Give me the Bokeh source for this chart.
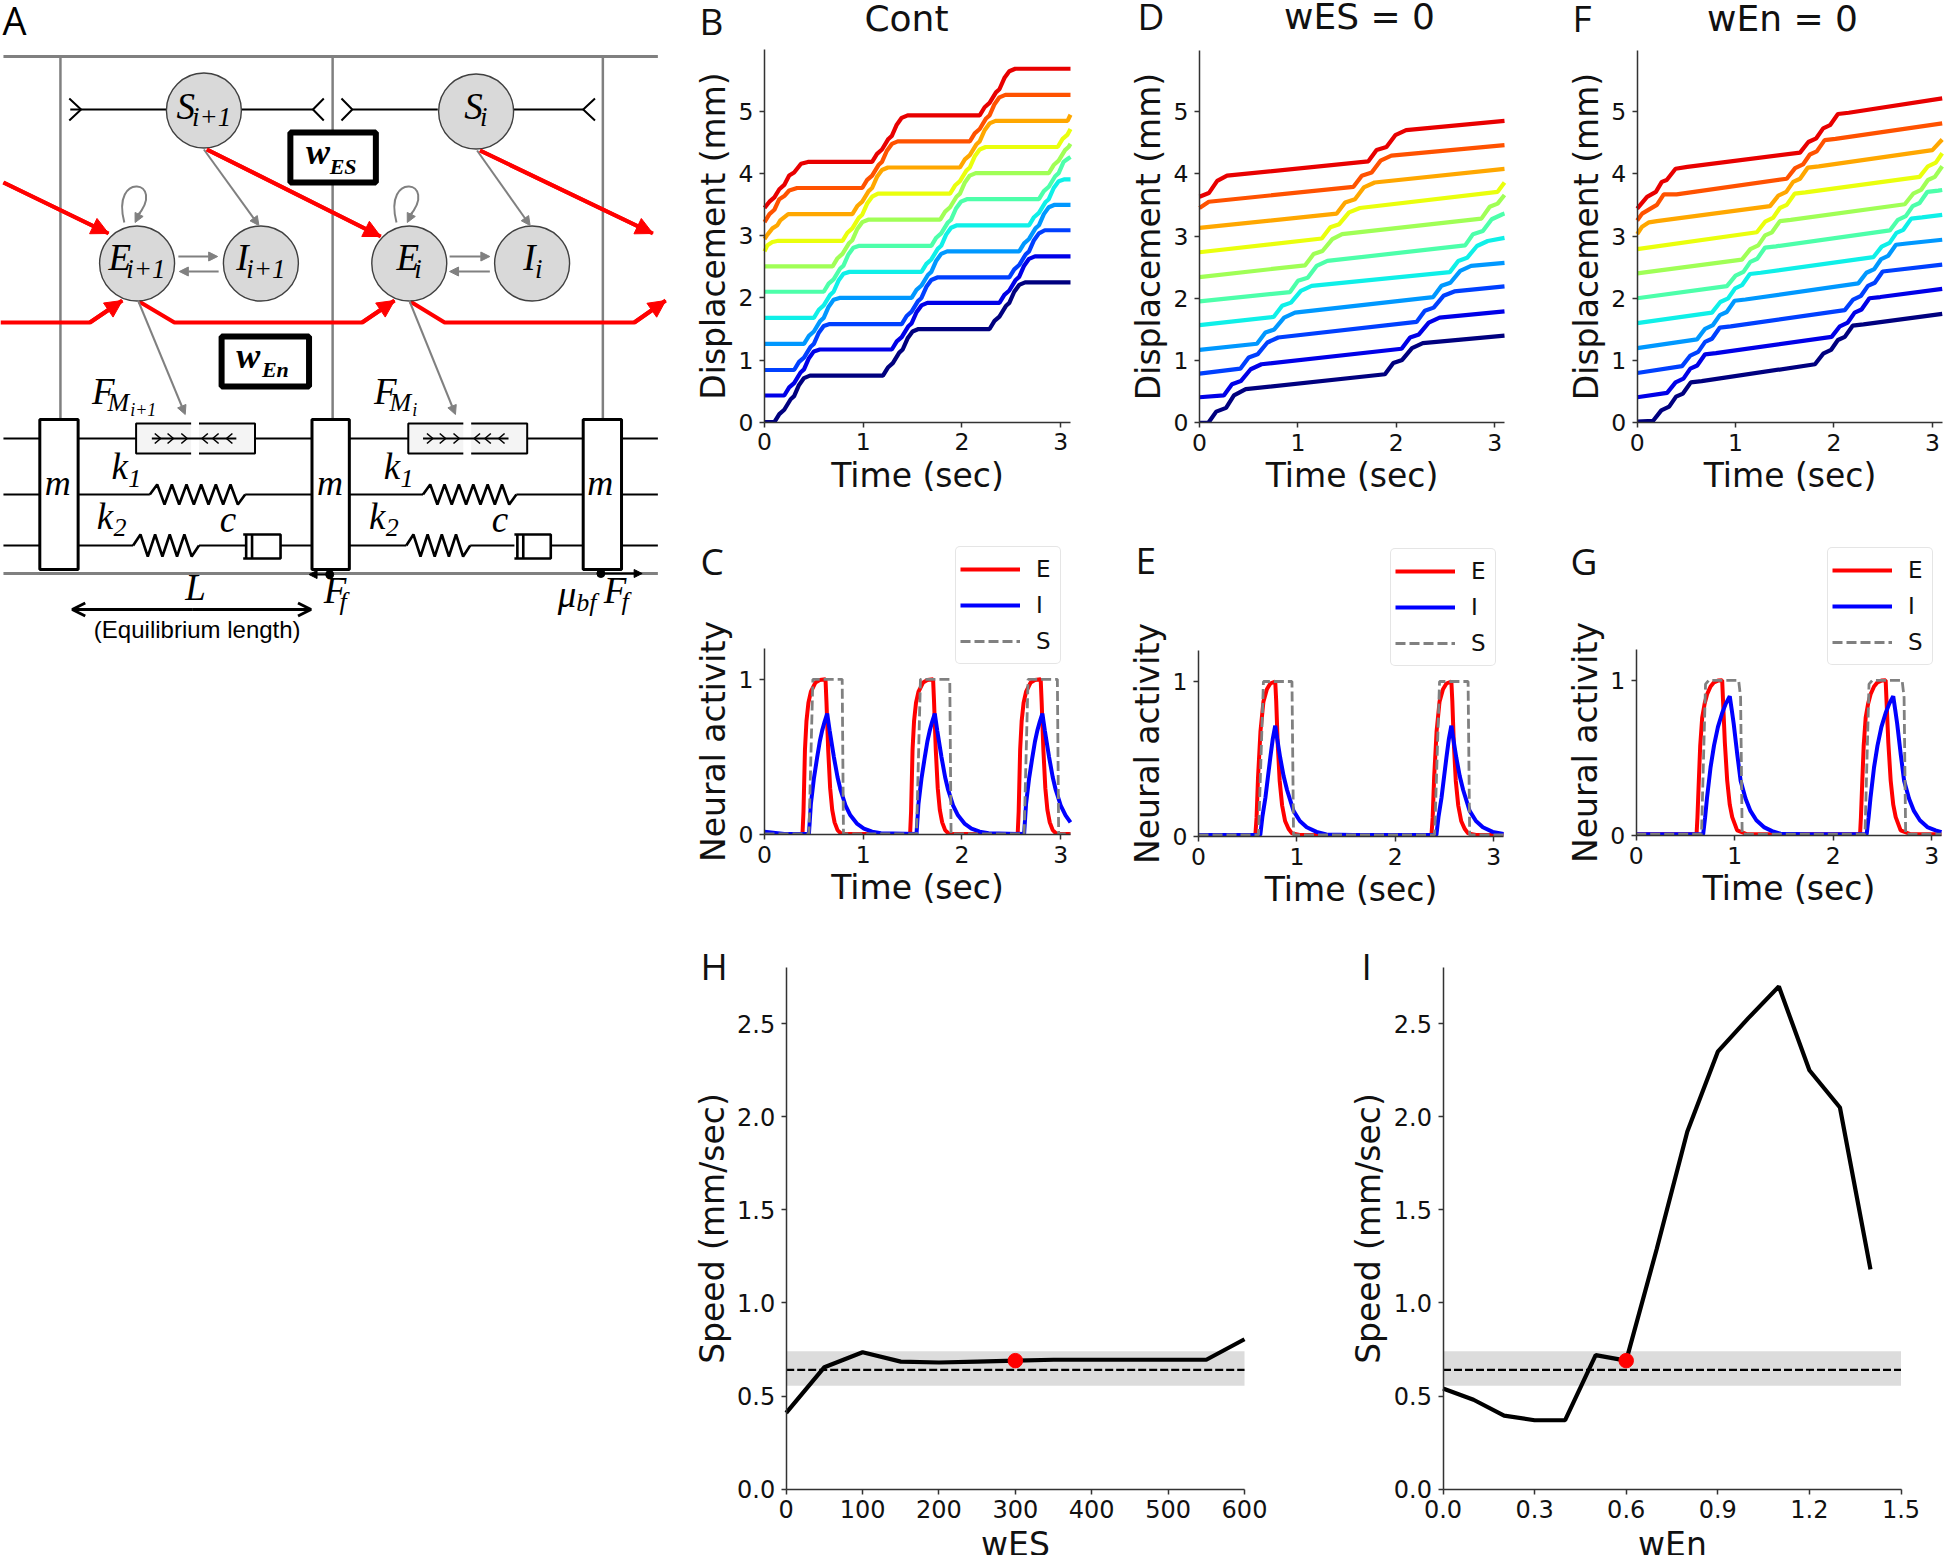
from bokeh.plotting import figure
from bokeh.layouts import row, column
from bokeh.models import (Label, Legend, LegendItem, Range1d, FixedTicker, Spacer, Arrow,
                          NormalHead, OpenHead, LinearAxis)
from bokeh.embed import file_html
from bokeh.resources import INLINE

# ---------- data ----------
TICKS_TIME = [0, 1, 2, 3]
TICKS_DISP = [0, 1, 2, 3, 4, 5]
TICKS_ACT = [0, 1]
TICKS_SPEED = [0, 0.5, 1, 1.5, 2, 2.5]
TICKS_SPEED_LABELS = ["0.0", "0.5", "1.0", "1.5", "2.0", "2.5"]
TICKS_WES = [0, 100, 200, 300, 400, 500, 600]
TICKS_WEN = [0, 0.3, 0.6, 0.9, 1.2, 1.5]
TICKS_WEN_LABELS = ["0.0", "0.3", "0.6", "0.9", "1.2", "1.5"]

JET = ["#00007f", "#0000e8", "#0040ff", "#0098ff", "#0ff0e8", "#4dffaa",
       "#a0ff56", "#eaff0d", "#ffa700", "#ff5200", "#e80000"]

B_T = [
 [0,.1,.15,.2,.265,.3,.35,.4,.46,1.2,1.25,1.3,1.365,1.4,1.45,1.5,1.56,2.28,2.33,2.38,2.445,2.48,2.53,2.58,2.64,3.1],
 [0,.2,.25,.3,.365,.4,.45,.5,.56,1.29,1.34,1.39,1.455,1.49,1.54,1.59,1.65,2.38,2.43,2.48,2.545,2.58,2.63,2.68,2.74,3.1],
 [0,.3,.35,.4,.465,.5,.55,.6,.66,1.39,1.44,1.49,1.555,1.59,1.64,1.69,1.75,2.48,2.53,2.58,2.645,2.68,2.73,2.78,2.84,3.1],
 [0,.4,.45,.5,.565,.6,.65,.7,.76,1.49,1.54,1.59,1.655,1.69,1.74,1.79,1.85,2.58,2.63,2.68,2.745,2.78,2.83,2.88,2.94,3.1],
 [0,.5,.55,.6,.665,.7,.75,.8,.86,1.59,1.64,1.69,1.755,1.79,1.84,1.89,1.95,2.68,2.73,2.78,2.845,2.88,2.93,2.98,3.04,3.1],
 [0,.6,.65,.7,.765,.8,.85,.9,.96,1.69,1.74,1.79,1.855,1.89,1.94,1.99,2.05,2.78,2.83,2.88,2.945,2.98,3.03,3.08,3.1],
 [0,.69,.74,.79,.855,.89,.94,.99,1.05,1.78,1.83,1.88,1.945,1.98,2.03,2.08,2.14,2.88,2.93,2.98,3.045,3.08,3.1],
 [0,.03,.08,.14,.79,.84,.89,.955,.99,1.04,1.09,1.15,1.88,1.93,1.98,2.045,2.08,2.13,2.18,2.24,2.97,3.02,3.07,3.1],
 [0,.03,.08,.13,.16,.24,.89,.94,.99,1.055,1.09,1.14,1.19,1.25,1.98,2.03,2.08,2.145,2.18,2.23,2.28,2.34,3.07,3.1],
 [0,.05,.1,.15,.2,.25,.33,.99,1.04,1.09,1.155,1.19,1.24,1.29,1.35,2.08,2.13,2.18,2.245,2.28,2.33,2.38,2.44,3.1],
 [0,.05,.1,.15,.2,.25,.3,.37,.44,1.09,1.14,1.19,1.255,1.29,1.34,1.39,1.45,2.18,2.23,2.28,2.345,2.38,2.43,2.48,2.54,3.1],
]
B_Y = [
 [0,0,.13,.2,.37,.42,.6,.71,.75,.75,.88,.95,1.12,1.17,1.35,1.46,1.5,1.5,1.63,1.7,1.87,1.92,2.1,2.21,2.25,2.25],
 [.43,.43,.56,.63,.8,.85,1.03,1.14,1.17,1.17,1.3,1.37,1.54,1.59,1.77,1.88,1.92,1.92,2.05,2.12,2.29,2.34,2.52,2.63,2.67,2.67],
 [.84,.84,.97,1.04,1.21,1.26,1.44,1.55,1.58,1.58,1.71,1.78,1.95,2.0,2.18,2.29,2.33,2.33,2.46,2.53,2.7,2.75,2.93,3.04,3.09,3.09],
 [1.26,1.26,1.39,1.46,1.63,1.68,1.86,1.97,2.0,2.0,2.13,2.2,2.37,2.42,2.6,2.71,2.75,2.75,2.88,2.95,3.12,3.17,3.35,3.46,3.5,3.5],
 [1.68,1.68,1.81,1.88,2.05,2.1,2.28,2.39,2.42,2.42,2.55,2.62,2.79,2.84,3.02,3.13,3.17,3.17,3.3,3.37,3.54,3.59,3.77,3.88,3.91,3.91],
 [2.1,2.1,2.23,2.3,2.47,2.52,2.7,2.81,2.84,2.84,2.97,3.04,3.21,3.26,3.44,3.55,3.59,3.59,3.72,3.79,3.96,4.01,4.19,4.25,4.27],
 [2.51,2.51,2.64,2.71,2.88,2.93,3.11,3.22,3.26,3.26,3.39,3.46,3.63,3.68,3.86,3.97,4.01,4.01,4.14,4.21,4.38,4.43,4.48],
 [2.75,2.85,2.9,2.92,2.92,3.05,3.12,3.29,3.34,3.52,3.63,3.68,3.68,3.81,3.88,4.05,4.1,4.28,4.39,4.43,4.43,4.56,4.63,4.72],
 [2.95,3.02,3.12,3.17,3.25,3.35,3.35,3.48,3.55,3.72,3.77,3.95,4.06,4.1,4.1,4.23,4.3,4.47,4.52,4.7,4.81,4.85,4.85,4.95],
 [3.22,3.35,3.42,3.59,3.64,3.73,3.77,3.77,3.9,3.97,4.14,4.19,4.37,4.48,4.52,4.52,4.65,4.72,4.89,4.94,5.12,5.23,5.27,5.27],
 [3.45,3.55,3.62,3.75,3.82,3.97,4.02,4.16,4.19,4.19,4.32,4.39,4.56,4.61,4.79,4.9,4.94,4.94,5.07,5.14,5.31,5.36,5.54,5.65,5.69,5.69],
]

D_T = [
 [0,.09,.17,.27,.35,.47,1.885,1.97,2.06,2.16,2.27,3.1],
 [0,.247,.33,.42,.52,.63,2.054,2.14,2.23,2.33,2.44,3.1],
 [0,.415,.5,.59,.69,.8,2.206,2.29,2.38,2.48,2.59,3.1],
 [0,.584,.67,.76,.86,.97,2.375,2.46,2.55,2.65,2.76,3.1],
 [0,.753,.84,.93,1.03,1.14,2.544,2.63,2.72,2.82,2.93,3.1],
 [0,.92,1.0,1.1,1.19,1.3,2.70,2.78,2.88,2.97,3.08,3.1],
 [0,1.074,1.16,1.25,1.35,1.45,2.865,2.95,3.03,3.1],
 [0,1.243,1.33,1.42,1.52,1.63,3.03,3.1],
 [0,1.395,1.48,1.58,1.67,1.78,3.1],
 [0,.095,1.565,1.65,1.75,1.84,1.95,3.1],
 [0,.095,.18,.28,1.716,1.8,1.9,1.99,2.1,3.1],
]
D_Y = [
 [0,0,.18,.24,.44,.54,.78,.96,1.01,1.2,1.28,1.4],
 [.41,.44,.62,.67,.86,.94,1.19,1.37,1.42,1.61,1.69,1.79],
 [.79,.87,1.05,1.1,1.29,1.37,1.62,1.8,1.85,2.04,2.11,2.19],
 [1.17,1.27,1.45,1.5,1.69,1.77,2.02,2.2,2.25,2.44,2.52,2.57],
 [1.57,1.7,1.88,1.93,2.12,2.2,2.42,2.6,2.65,2.84,2.92,2.97],
 [1.95,2.1,2.28,2.33,2.52,2.6,2.85,3.03,3.08,3.27,3.35,3.36],
 [2.34,2.53,2.71,2.76,2.95,3.03,3.28,3.47,3.52,3.66],
 [2.74,2.96,3.14,3.19,3.38,3.45,3.71,3.86],
 [3.13,3.36,3.54,3.59,3.78,3.86,4.08],
 [3.45,3.55,3.79,3.97,4.02,4.21,4.29,4.46],
 [3.63,3.69,3.885,3.97,4.2,4.38,4.43,4.62,4.70,4.85],
]

F_T = [
 [0,.16,.245,.325,.395,.465,.545,.655,1.807,1.89,1.97,2.04,2.11,2.19,2.3,3.1],
 [0,.304,.39,.47,.54,.61,.69,.8,1.976,2.06,2.14,2.21,2.28,2.36,2.47,3.1],
 [0,.456,.54,.62,.69,.76,.84,.95,2.11,2.195,2.275,2.345,2.415,2.495,2.605,3.1],
 [0,.608,.69,.77,.84,.91,.99,1.1,2.247,2.33,2.41,2.48,2.55,2.63,2.74,3.1],
 [0,.76,.845,.925,.995,1.065,1.145,1.255,2.4,2.485,2.565,2.635,2.705,2.785,2.895,3.1],
 [0,.912,1.0,1.08,1.15,1.22,1.3,1.41,2.568,2.65,2.73,2.8,2.87,2.95,3.06,3.1],
 [0,1.064,1.15,1.23,1.3,1.37,1.45,1.56,2.72,2.805,2.885,2.955,3.025,3.1],
 [0,1.216,1.30,1.38,1.45,1.52,1.6,1.71,2.87,2.955,3.035,3.1],
 [0,.05,.12,.2,1.35,1.435,1.515,1.585,1.655,1.735,1.845,3.0,3.1],
 [0,.05,.135,.2,.27,.4,1.52,1.605,1.685,1.755,1.825,1.905,2.015,3.1],
 [0,.1,.19,.25,.3,.39,.51,1.655,1.74,1.82,1.89,1.96,2.04,2.15,3.1],
]
F_Y = [
 [.02,.03,.2,.26,.42,.47,.65,.67,.94,1.11,1.17,1.33,1.38,1.56,1.58,1.75],
 [.41,.48,.65,.71,.87,.92,1.1,1.12,1.38,1.55,1.61,1.77,1.82,2.0,2.02,2.15],
 [.8,.91,1.08,1.14,1.3,1.35,1.53,1.55,1.81,1.98,2.04,2.2,2.25,2.43,2.45,2.54],
 [1.2,1.34,1.51,1.57,1.73,1.78,1.96,1.98,2.24,2.41,2.47,2.63,2.68,2.86,2.88,2.94],
 [1.6,1.77,1.94,2.0,2.16,2.21,2.39,2.41,2.66,2.83,2.89,3.05,3.1,3.28,3.3,3.34],
 [2.0,2.195,2.365,2.425,2.585,2.635,2.815,2.835,3.09,3.26,3.32,3.48,3.53,3.71,3.73,3.74],
 [2.4,2.62,2.79,2.85,3.01,3.06,3.24,3.26,3.51,3.68,3.74,3.9,3.95,4.12],
 [2.79,3.06,3.23,3.29,3.45,3.5,3.68,3.7,3.95,4.12,4.18,4.33],
 [3.03,3.15,3.22,3.24,3.48,3.65,3.71,3.87,3.92,4.1,4.12,4.38,4.55],
 [3.25,3.36,3.44,3.5,3.67,3.67,3.92,4.09,4.15,4.31,4.36,4.54,4.56,4.81],
 [3.44,3.63,3.71,3.87,3.9,4.08,4.11,4.34,4.51,4.57,4.73,4.78,4.96,4.98,5.21],
]

C_E_T = [0,.385,.395,.41,.425,.445,.47,.517,.56,.618,.628,.645,.665,.686,.71,.74,.78,
         1.475,1.485,1.5,1.515,1.535,1.56,1.607,1.65,1.708,1.718,1.735,1.755,1.776,1.8,1.83,1.87,
         2.565,2.575,2.59,2.605,2.625,2.65,2.697,2.74,2.798,2.808,2.825,2.845,2.866,2.89,2.92,2.96,3.1]
C_E_Y = [.005,.005,.15,.55,.73,.85,.92,.98,.995,1,.85,.55,.3,.16,.08,.03,.005,
         .005,.15,.55,.73,.85,.92,.98,.995,1,.85,.55,.3,.16,.08,.03,.005,
         .005,.15,.55,.73,.85,.92,.98,.995,1,.85,.55,.3,.16,.08,.03,.005,.005]
C_I_T = [0,.2,.45,.47,.5,.534,.56,.584,.61,.635,.66,.703,.74,.77,.82,.87,.94,1.007,1.09,1.18,
         1.54,1.56,1.59,1.624,1.65,1.674,1.70,1.725,1.75,1.793,1.83,1.86,1.91,1.96,2.03,2.097,2.18,2.27,
         2.63,2.65,2.68,2.714,2.74,2.764,2.79,2.815,2.84,2.883,2.92,2.95,3.0,3.05,3.1]
C_I_Y = [.02,.005,.005,.2,.36,.5,.6,.67,.73,.78,.67,.5,.37,.29,.19,.125,.07,.04,.02,.01,
         .005,.2,.36,.5,.6,.67,.73,.78,.67,.5,.37,.29,.19,.125,.07,.04,.02,.01,
         .005,.2,.36,.5,.6,.67,.73,.78,.67,.5,.37,.29,.19,.125,.08]
C_S_T = [0,.45,.49,.787,.80,1.54,1.58,1.877,1.89,2.63,2.67,2.967,2.98,3.1]
C_S_Y = [.005,.005,1,1,.005,.005,1,1,.005,.005,1,1,.005,.005]

E_E_T = [0,.578,.59,.605,.63,.66,.695,.73,.78,.79,.805,.825,.85,.88,.915,.95,1.03,
         2.368,2.38,2.395,2.42,2.45,2.485,2.52,2.57,2.58,2.595,2.615,2.64,2.67,2.705,2.74,2.82,3.1]
E_E_Y = [.01,.01,.12,.38,.68,.87,.95,.987,1,.87,.6,.36,.2,.1,.05,.02,.01,
         .01,.12,.38,.68,.87,.95,.987,1,.87,.6,.36,.2,.1,.05,.02,.01,.01]
E_I_T = [0,.628,.65,.68,.705,.73,.755,.78,.80,.83,.865,.9,.966,1.03,1.1,1.2,1.3,1.57,
         2.418,2.44,2.47,2.495,2.52,2.545,2.57,2.59,2.62,2.655,2.69,2.756,2.82,2.89,2.99,3.1]
E_I_Y = [.01,.01,.13,.25,.38,.51,.63,.715,.63,.51,.39,.3,.165,.1,.06,.03,.013,.01,
         .01,.13,.25,.38,.51,.63,.715,.63,.51,.39,.3,.165,.1,.06,.03,.016]
E_S_T = [0,.61,.66,.95,.966,2.4,2.45,2.74,2.756,3.1]
E_S_Y = [.01,.01,1,1,.01,.01,1,1,.01,.01]

G_E_T = [0,.613,.622,.636,.65,.67,.695,.72,.755,.79,.83,.873,.883,.90,.924,.95,.975,1.025,1.127,
         2.273,2.282,2.296,2.31,2.33,2.355,2.38,2.415,2.45,2.49,2.533,2.543,2.56,2.584,2.61,2.635,2.685,2.787,3.1]
G_E_Y = [.01,.01,.12,.355,.58,.76,.85,.91,.96,.987,.998,1,.85,.6,.355,.2,.12,.035,.01,
         .01,.12,.355,.58,.76,.85,.91,.96,.987,.998,1,.85,.6,.355,.2,.12,.035,.01,.01]
G_I_T = [0,.68,.70,.72,.755,.79,.83,.873,.91,.95,.97,.99,1.025,1.06,1.11,1.16,1.22,1.296,1.38,1.465,1.736,
         2.34,2.36,2.38,2.415,2.45,2.49,2.533,2.57,2.61,2.63,2.65,2.685,2.72,2.77,2.82,2.88,2.956,3.04,3.1]
G_I_Y = [.01,.01,.12,.25,.44,.58,.70,.79,.85,.897,.81,.72,.53,.355,.24,.16,.1,.056,.03,.013,.01,
         .01,.12,.25,.44,.58,.70,.79,.85,.897,.81,.72,.53,.355,.24,.16,.1,.056,.035,.024]
G_S_T = [0,.663,.704,.738,1.04,1.06,1.076,2.323,2.364,2.398,2.7,2.72,2.736,3.1]
G_S_Y = [.01,.01,.975,1,1,.89,.01,.01,.975,1,1,.89,.01,.01]

H_X = [0,50,100,150,200,250,300,350,400,450,500,550,600]
H_Y = [.41,.655,.735,.685,.68,.685,.69,.695,.695,.695,.695,.695,.805]
I_X = [0,.1,.2,.3,.4,.5,.6,.7,.8,.9,1.0,1.1,1.2,1.3,1.4]
I_Y = [.54,.48,.395,.37,.37,.72,.69,1.29,1.92,2.35,2.53,2.7,2.25,2.05,1.18]
H_DOT = (300, .69)
I_DOT = (.6, .69)
BAND_LOW, BAND_HIGH, BAND_MID = .555, .74, .64

# ---------- helpers ----------
TICK_FONT = "DejaVu Sans"
BASE_FIX = 0.42   # the label baseline sits this fraction of the font size below the anchor

def chart(cell, frame, xr, yr, xt, yt, xlab, ylab, tick_size="23.5px", xov=None, yov=None, xstand=2, ystand=3, tstand=6):
    cl, cr, ct, cb = cell
    fl, fr, ft, fb = frame
    sx = (xr[1]-xr[0])/(fr-fl)
    sy = (yr[1]-yr[0])/(fb-ft)
    p = figure(width=cr-cl, height=cb-ct, output_backend="svg", toolbar_location=None,
               x_range=Range1d(xr[0]-(fl-cl)*sx, xr[1]+(cr-fr)*sx),
               y_range=Range1d(yr[0]-(cb-fb)*sy, yr[1]+(ft-ct)*sy),
               x_axis_type=None, y_axis_type=None,
               min_border=0, min_border_left=0, min_border_right=0, min_border_top=0, min_border_bottom=0)
    p.outline_line_color = None
    p.border_fill_color = "white"
    p.grid.visible = False
    xa = LinearAxis(ticker=FixedTicker(ticks=xt), fixed_location=yr[0], bounds=xr, axis_label=xlab,
                    axis_label_standoff=xstand)
    ya = LinearAxis(ticker=FixedTicker(ticks=yt), fixed_location=xr[0], bounds=yr, axis_label=ylab,
                    axis_label_standoff=ystand)
    if xov: xa.major_label_overrides = xov
    if yov: ya.major_label_overrides = yov
    for ax in (xa, ya):
        ax.axis_label_text_font = TICK_FONT
        ax.axis_label_text_font_size = "33px"
        ax.axis_label_text_font_style = "normal"
        ax.axis_label_text_color = "#111111"
        ax.major_label_text_font = TICK_FONT
        ax.major_label_text_font_size = tick_size
        ax.major_label_text_color = "#111111"
        ax.axis_line_color = "#333333"
        ax.axis_line_width = 1.5
        ax.major_tick_line_color = "#333333"
        ax.major_tick_line_width = 1.5
        ax.major_tick_out = 5
        ax.major_tick_in = 0
        ax.minor_tick_out = 0
        ax.minor_tick_in = 0
    xa.major_label_standoff = tstand
    ya.major_label_standoff = 6
    ya.major_label_orientation = "horizontal"
    p.add_layout(xa, "below")
    p.add_layout(ya, "left")
    p._cell = cell
    p._xr = xr
    p._yr = yr
    return p

def tag(p, text, x, base, size=37, align="left", font="Open Sans"):
    cl, cr, ct, cb = p._cell
    p.add_layout(Label(x=x-cl, y=cb-base+BASE_FIX*size, x_units="screen", y_units="screen", text=text,
                       text_font=font, text_font_size=f"{size}px", text_align=align,
                       text_baseline="alphabetic", text_color="#111111"))

def mask(p):
    # glyphs stay inside the plotted area, as the clipped axes of the reference do
    x0, x1 = p.x_range.start, p.x_range.end
    y0 = p.y_range.start
    p.quad(left=[x0], right=[x1], bottom=[y0], top=[p._yr[0]], fill_color="white", line_color=None)

def displacement(p, T, Y):
    for t, y, c in zip(T, Y, JET):
        p.line(t, y, line_color=c, line_width=4.2)
    mask(p)

def neural(p, et, ey, it, iy, st, sy, box_x, box_bottom):
    cl, cr, ct, cb = p._cell
    r1 = p.line(et, ey, line_color="#ff0000", line_width=4)
    r2 = p.line(it, iy, line_color="#0000ff", line_width=4)
    r3 = p.line(st, sy, line_color="#808080", line_width=2.8, line_dash="10 4")
    mask(p)
    leg = Legend(items=[LegendItem(label="E", renderers=[r1]), LegendItem(label="I", renderers=[r2]),
                        LegendItem(label="S", renderers=[r3])],
                 location=(box_x+2-cl, cb-box_bottom), glyph_width=60, glyph_height=36, label_height=36, spacing=0,
                 padding=4, margin=0, label_standoff=16, border_line_color="#cccccc", border_line_width=1.5,
                 background_fill_color="white", background_fill_alpha=0.8,
                 label_text_font=TICK_FONT, label_text_font_size="23px", label_text_color="#111111")
    if hasattr(leg, "border_radius"):
        leg.border_radius = 5
    p.add_layout(leg)

def speed(p, xs, ys, dot, xmax):
    p.quad(left=[0], right=[xmax], bottom=[BAND_LOW], top=[BAND_HIGH], fill_color="#dcdcdc", line_color=None)
    p.line([0, xmax], [BAND_MID, BAND_MID], line_color="black", line_width=2.2, line_dash="8 3")
    p.line(xs, ys, line_color="black", line_width=4.2)
    p.scatter([dot[0]], [dot[1]], size=14.5, fill_color="#ff0000", line_color="#ff0000")

# ---------- panels B..I ----------
XR = (0, 3.1)
TF = "DejaVu Sans"
b = chart((690,1125,0,510), (764,1070,49,421.7), XR, (0,6), TICKS_TIME, TICKS_DISP, "Time (sec)", "Displacement (mm)")
displacement(b, B_T, B_Y)
tag(b, "B", 699, 36); tag(b, "Cont", 906, 33, size=36, align="center", font=TF)

d = chart((1125,1555,0,510), (1199,1504,50,422.3), XR, (0,5.98), TICKS_TIME, TICKS_DISP, "Time (sec)", "Displacement (mm)")
displacement(d, D_T, D_Y)
tag(d, "D", 1137, 31); tag(d, "wES = 0", 1359, 31, size=36, align="center", font=TF)

f = chart((1555,1944,0,510), (1636.7,1941.7,50,422.3), XR, (0,5.98), TICKS_TIME, TICKS_DISP, "Time (sec)", "Displacement (mm)")
displacement(f, F_T, F_Y)
tag(f, "F", 1572, 33); tag(f, "wEn = 0", 1782, 33, size=36, align="center", font=TF)

c = chart((690,1125,510,945), (764,1070,647.7,834.3), XR, (0,1.2), TICKS_TIME, TICKS_ACT, "Time (sec)", "Neural activity")
neural(c, C_E_T, C_E_Y, C_I_T, C_I_Y, C_S_T, C_S_Y, 953, 664)
tag(c, "C", 700, 576)

e = chart((1125,1555,510,945), (1198,1503,650,836), XR, (0,1.2), TICKS_TIME, TICKS_ACT, "Time (sec)", "Neural activity")
neural(e, E_E_T, E_E_Y, E_I_T, E_I_Y, E_S_T, E_S_Y, 1388, 666)
tag(e, "E", 1135, 575)

g = chart((1555,1944,510,945), (1635.7,1941,648.7,835.3), XR, (0,1.2), TICKS_TIME, TICKS_ACT, "Time (sec)", "Neural activity")
neural(g, G_E_T, G_E_Y, G_I_T, G_I_Y, G_S_T, G_S_Y, 1825, 665)
tag(g, "G", 1570, 576)

h = chart((690,1320,945,1555), (785.7,1244,967.4,1488.6), (0,600), (0,2.8), TICKS_WES, TICKS_SPEED, "wES", "Speed (mm/sec)",
          tick_size="24px", yov=dict(zip(TICKS_SPEED, TICKS_SPEED_LABELS)), xstand=3, ystand=2, tstand=6)
speed(h, H_X, H_Y, H_DOT, 600)
tag(h, "H", 700, 981)

i_ = chart((1320,1944,945,1555), (1442.5,1900.5,967.4,1488.6), (0,1.5), (0,2.8), TICKS_WEN, TICKS_SPEED, "wEn", "Speed (mm/sec)",
           tick_size="24px", xov=dict(zip(TICKS_WEN, TICKS_WEN_LABELS)), yov=dict(zip(TICKS_SPEED, TICKS_SPEED_LABELS)),
           xstand=3, ystand=3, tstand=6)
speed(i_, I_X, I_Y, I_DOT, 1.5)
tag(i_, "I", 1361, 981)

# ---------- panel A: schematic, coordinates ----------
a = figure(width=690, height=945, output_backend="svg", toolbar_location=None,
           x_range=Range1d(0, 702.2), y_range=Range1d(945, 0), x_axis_type=None, y_axis_type=None,
           min_border=0, min_border_left=0, min_border_right=0, min_border_top=0, min_border_bottom=0)
a.outline_line_color = None
a.grid.visible = False

GREY = "#808080"
a.line([3, 669], [56, 56], line_color=GREY, line_width=3)
a.line([3, 669], [573, 573], line_color=GREY, line_width=3)
for vx in (61, 338, 613):
    a.line([vx, vx], [56, 419], line_color=GREY, line_width=2.5)

# S rails with forks
for xs in ([71, 170], [245, 318], [358, 445], [522, 593]):
    a.line(xs, [109, 109], line_color="black", line_width=2)
for fx, tip in ((70, 82), (329, 318), (347, 358), (605, 593)):
    a.line([fx, tip, fx], [98, 109, 120], line_color="black", line_width=2)

# grey connections
def garrow(x0, y0, x1, y1):
    a.add_layout(Arrow(end=NormalHead(size=9, fill_color=GREY, line_color=GREY, line_width=1),
                       x_start=x0, y_start=y0, x_end=x1, y_end=y1, line_color=GREY, line_width=2))
for seg in ((207,149,263,225), (485,150,539,225), (181,256,221,256), (222,271,182,271),
            (457,256,498,256), (498,271,457,271), (140,300,188,414), (416,300,463,414)):
    garrow(*seg)
for dx in (0, 277):
    a.bezier(x0=[126+dx], y0=[222], x1=[139+dx], y1=[216], cx0=[112+dx], cy0=[170], cx1=[170+dx], cy1=[180],
             line_color=GREY, line_width=2)
    garrow(142+dx, 212, 137+dx, 222)

# red connections
RED = "#ff0000"
for xs, ys in (([3, 110], [182, 233]), ([210, 387], [149, 236]), ([488, 664], [150, 233]),
               ([0, 91, 124], [322, 322, 300]), ([141, 177, 368, 401], [301, 322, 322, 300]),
               ([417, 452, 645, 677], [301, 322, 322, 300])):
    a.line(xs, ys, line_color=RED, line_width=4)
    a.add_layout(Arrow(end=NormalHead(size=17, fill_color=RED, line_color=RED), x_start=xs[-2], y_start=ys[-2],
                       x_end=xs[-1], y_end=ys[-1], line_color=RED, line_width=4))

# neurons
for cx, cy in ((207,110), (484,111), (139,263), (265,263), (416,263), (541,263)):
    a.ellipse(x=[cx], y=[cy], width=76.3, height=75, fill_color="#d9d9d9", line_color="#404040", line_width=1.4)

# weight boxes
a.quad(left=[295], right=[382], top=[132], bottom=[182], fill_color="white", line_color="black", line_width=6)
a.quad(left=[225], right=[314], top=[336], bottom=[386], fill_color="white", line_color="black", line_width=6)

# body rails
for y, segs in ((438, ((3,40),(79,138),(259,317),(355,415),(536,593),(632,669))),
                (494, ((3,40),(79,152),(249,317),(355,430),(525,593),(632,669))),
                (545, ((3,40),(79,135),(202,250),(285,317),(355,413),(478,523),(560,593),(632,669)))):
    for s in segs:
        a.line(list(s), [y, y], line_color="black", line_width=2)

# muscle units
for ml, mr, gl, gr, il, ir, chev_r, chev_l in ((138,259,194,202,154,240,(161,174,188),(207,218,232)),
                                               (415,536,471,479,430,517,(438,451,465),(484,495,509))):
    a.quad(left=[ml], right=[mr], top=[423], bottom=[453], fill_color="#f4f4f4", line_color=None)
    a.quad(left=[gl], right=[gr], top=[420], bottom=[456], fill_color="white", line_color=None)
    a.line([gl, ml, ml, gl], [423, 423, 453, 453], line_color="black", line_width=2)
    a.line([gr, mr, mr, gr], [423, 423, 453, 453], line_color="black", line_width=2)
    a.line([il, ir], [438, 438], line_color="black", line_width=2)
    for cx in chev_r:
        a.line([cx-4, cx+2, cx-4], [433, 438, 443], line_color="black", line_width=1.6)
    for cx in chev_l:
        a.line([cx+4, cx-2, cx+4], [433, 438, 443], line_color="black", line_width=1.6)

# springs
def spring(x0, x1, yc, amp, periods):
    n = periods*2
    xs = [x0 + (x1-x0)*k/(n+1) for k in range(n+2)]
    ys = [yc] + [yc + (amp if k % 2 else -amp) for k in range(n)] + [yc]
    a.line(xs, ys, line_color="black", line_width=2.6)
spring(152, 249, 494, 10, 6); spring(430, 525, 494, 10, 6)
spring(135, 202, 545, 11, 4); spring(413, 478, 545, 11, 4)

# dampers
for dl, dr in ((247, 285), (523, 560)):
    a.line([dl, dr, dr, dl], [534, 534, 558, 558], line_color="black", line_width=2.6)
    a.line([dl+9, dl+9], [534, 558], line_color="black", line_width=2.6)
    a.line([dl+3, dl+3], [534, 558], line_color="black", line_width=2.6)

# masses
for ml, mr in ((40,79), (317,355), (593,632)):
    a.quad(left=[ml], right=[mr], top=[419], bottom=[569], fill_color="white", line_color="black", line_width=3)

# length and friction arrows
for x0, x1 in ((195, 73), (195, 316)):
    a.add_layout(Arrow(end=OpenHead(size=13, line_color="black", line_width=3), x_start=x0, y_start=609,
                       x_end=x1, y_end=609, line_color="black", line_width=3))
a.add_layout(Arrow(end=NormalHead(size=8, fill_color="black", line_color="black"), x_start=335, y_start=574,
                   x_end=314, y_end=574, line_color="black", line_width=2))
a.add_layout(Arrow(end=NormalHead(size=8, fill_color="black", line_color="black"), x_start=611, y_start=573,
                   x_end=653, y_end=573, line_color="black", line_width=2))
a.scatter([335, 611], [574, 573], size=8, fill_color="black", line_color="black")

def m(x, y, s, size=37, style="italic", font="Liberation Serif"):
    a.add_layout(Label(x=x, y=y-BASE_FIX*size, text=s, text_font=font, text_font_size=f"{size}px", text_font_style=style,
                       text_align="left", text_baseline="alphabetic", text_color="black"))

m(179,122,"S"); m(195,128,"i+1",27)
m(472,122,"S"); m(488,128,"i",27)
m(110,273,"E"); m(128,280,"i+1",27)
m(240,273,"I"); m(250,280,"i+1",27)
m(403,273,"E"); m(421,280,"i",27)
m(532,273,"I"); m(544,280,"i",27)
m(311,167,"w",36,"bold italic"); m(335,175,"ES",22,"bold italic")
m(240,371,"w",36,"bold italic"); m(266,378,"En",22,"bold italic")
m(93,407,"F"); m(109,413,"M",26); m(132,417,"i+1",18)
m(380,407,"F"); m(396,413,"M",26); m(419,417,"i",18)
m(113,482,"k"); m(130,489,"1",26)
m(390,482,"k"); m(407,489,"1",26)
m(98,532,"k"); m(115,538,"2",26)
m(375,532,"k"); m(392,538,"2",26)
m(223,535,"c"); m(500,535,"c")
m(45,498,"m",36); m(322,498,"m",36); m(597,498,"m",36)
m(188,603,"L")
m(329,606,"F"); m(345,612,"f",26)
m(567,610,"μ"); m(586,613,"bf",26); m(614,606,"F"); m(632,612,"f",26)
m(95,639,"(Equilibrium length)",24,"normal","Liberation Sans")
m(2,35,"A",38,"normal","Open Sans")

root = column(row(a, column(b, c, spacing=0), column(d, e, spacing=0), column(f, g, spacing=0), spacing=0),
              row(Spacer(width=690, height=610), h, i_, spacing=0),
              spacing=0)
open("out.html", "w").write(file_html(root, INLINE))
